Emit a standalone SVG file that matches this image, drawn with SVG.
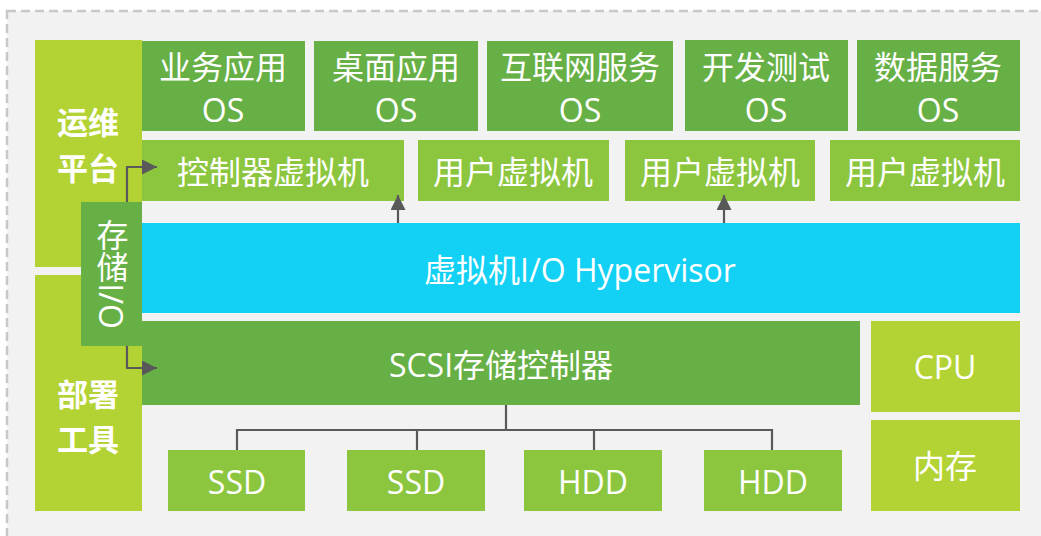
<svg xmlns="http://www.w3.org/2000/svg" width="1041" height="536" viewBox="0 0 1041 536">
<defs>
<style>
.t{font-family:"Open Sans","Noto Sans CJK SC",sans-serif;font-size:32px;fill:#fff;text-anchor:middle;dominant-baseline:central}
.b{font-family:"Noto Sans CJK SC",sans-serif;font-weight:bold;font-size:31px;fill:#fff;text-anchor:middle;dominant-baseline:central}
.dk{fill:#67b046}
.lt{fill:#8cc63f}
.ym{fill:#b3d334}
.cy{fill:#12d1f5}
.ln{fill:none;stroke:#595959;stroke-width:2.2}
</style>
<marker id="ah" markerUnits="userSpaceOnUse" markerWidth="15" markerHeight="15" refX="15" refY="7.5" orient="auto">
<path d="M0,0 L15,7.5 L0,15 z" fill="#595959"/>
</marker>
</defs>
<rect x="0" y="0" width="1041" height="536" fill="#ffffff"/>
<rect x="7" y="11" width="1060" height="540" fill="#f2f2f2" stroke="#c8c8c8" stroke-width="2.5" stroke-dasharray="9 5"/>

<g id="ops"><rect class="ym" x="35" y="40" width="107" height="227"/><text class="b" x="88" y="120">运维</text><text class="b" x="88" y="166">平台</text></g>
<g id="deploy"><rect class="ym" x="35" y="275" width="107" height="236"/><text class="b" x="88" y="392">部署</text><text class="b" x="88" y="437">工具</text></g>

<g id="os1"><rect class="dk" x="142" y="41" width="163" height="90"/><text class="t" x="223" y="66">业务应用</text><text class="t" x="223" y="109">OS</text></g>
<g id="os2"><rect class="dk" x="314" y="41" width="164" height="90"/><text class="t" x="396" y="66">桌面应用</text><text class="t" x="396" y="109">OS</text></g>
<g id="os3"><rect class="dk" x="487" y="41" width="186" height="90"/><text class="t" x="580" y="66">互联网服务</text><text class="t" x="580" y="109">OS</text></g>
<g id="os4"><rect class="dk" x="685" y="40" width="163" height="91"/><text class="t" x="766" y="66">开发测试</text><text class="t" x="766" y="109">OS</text></g>
<g id="os5"><rect class="dk" x="857" y="40" width="163" height="91"/><text class="t" x="938" y="66">数据服务</text><text class="t" x="938" y="109">OS</text></g>

<g id="ctrlvm"><rect class="lt" x="142" y="140" width="262" height="61"/><text class="t" x="273" y="171">控制器虚拟机</text></g>
<g id="uvm1"><rect class="lt" x="418" y="140" width="191" height="61"/><text class="t" x="513" y="171">用户虚拟机</text></g>
<g id="uvm2"><rect class="lt" x="625" y="140" width="190" height="61"/><text class="t" x="720" y="171">用户虚拟机</text></g>
<g id="uvm3"><rect class="lt" x="830" y="140" width="190" height="61"/><text class="t" x="925" y="171">用户虚拟机</text></g>

<g id="hypervisor"><rect class="cy" x="142" y="223" width="878" height="90"/><text class="t" x="580" y="269">虚拟机I/O Hypervisor</text></g>

<g id="storageio"><rect class="dk" x="81" y="202" width="61" height="144"/><text class="t" x="111" y="274" style="writing-mode:vertical-rl">存储I/O</text></g>

<g id="scsi"><rect class="dk" x="142" y="321" width="718" height="84"/><text class="t" x="501" y="364">SCSI存储控制器</text></g>
<g id="cpu"><rect class="ym" x="871" y="321" width="149" height="91"/><text class="t" x="945" y="366">CPU</text></g>
<g id="mem"><rect class="ym" x="871" y="420" width="149" height="91"/><text class="t" x="945" y="465">内存</text></g>

<g id="ssd1"><rect class="lt" x="168" y="450" width="137" height="61"/><text class="t" x="237" y="481">SSD</text></g>
<g id="ssd2"><rect class="lt" x="347" y="450" width="138" height="61"/><text class="t" x="416" y="481">SSD</text></g>
<g id="hdd1"><rect class="lt" x="524" y="450" width="138" height="61"/><text class="t" x="593" y="481">HDD</text></g>
<g id="hdd2"><rect class="lt" x="704" y="450" width="138" height="61"/><text class="t" x="773" y="481">HDD</text></g>

<g id="connectors">
<path class="ln" d="M398,223 V195" marker-end="url(#ah)"/>
<path class="ln" d="M724,223 V195" marker-end="url(#ah)"/>
<path class="ln" d="M127,202 V167 H157" marker-end="url(#ah)"/>
<path class="ln" d="M127,346 V368 H157" marker-end="url(#ah)"/>
<path class="ln" stroke-width="2.5" d="M506,405 V430 M237,450 V430 H772 V450 M417,430 V450 M594,430 V450"/>
</g>
</svg>
